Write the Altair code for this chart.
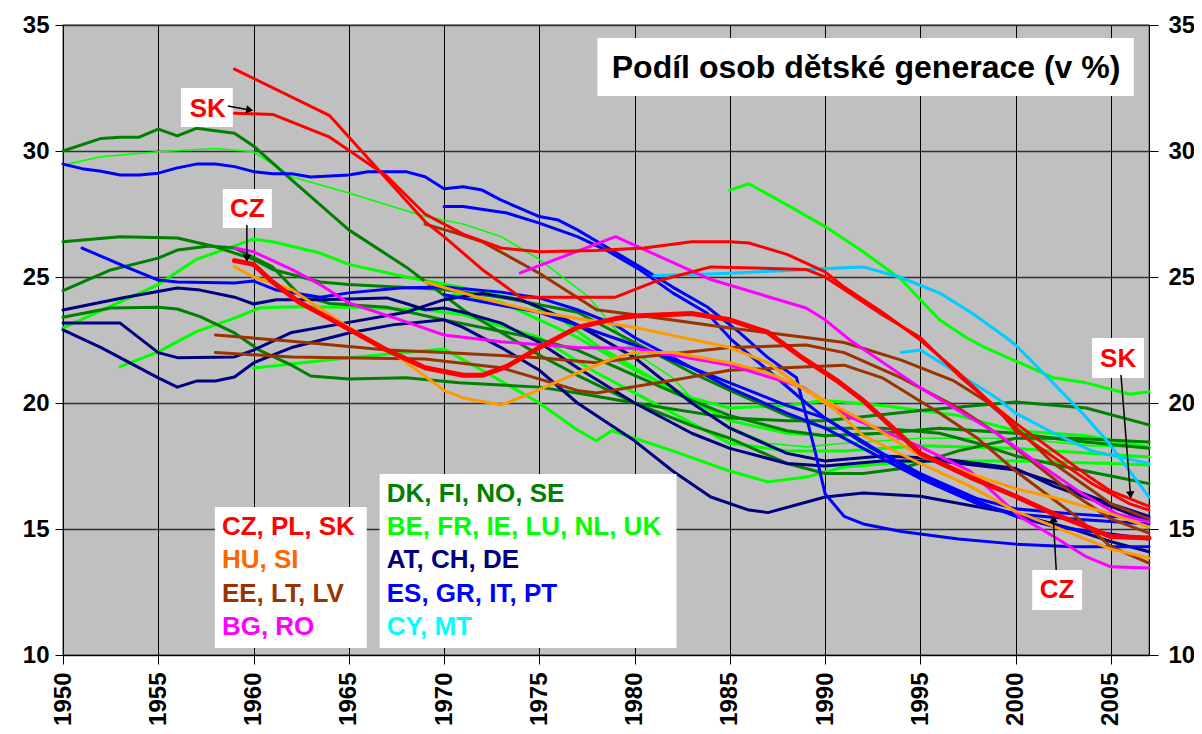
import math
import altair as alt
import pandas as pd

# ---------------- data: (year, share of children %) ----------------
# red: CZ, PL, SK
CZ = [(1959, 25.65), (1960, 25.5), (1961, 24.8), (1962.4, 24.0), (1964, 23.35), (1967, 22.1), (1969, 21.4),
      (1971, 21.1), (1972, 21.1), (1973.3, 21.45), (1975, 22.2), (1977, 23.0), (1979, 23.35), (1980, 23.45),
      (1983, 23.55), (1985, 23.3), (1987, 22.8), (1988.8, 21.8), (1990.6, 20.9), (1992, 20.1), (1995, 18.0),
      (1997.6, 17.06), (2000, 16.3), (2002, 15.6), (2003.7, 15.1), (2005, 14.7), (2007, 14.64)]
PL = [(1959, 33.25), (1964, 31.4), (1969, 27.2), (1970, 26.6), (1972, 25.3), (1974, 24.2), (1979, 24.2),
      (1981, 24.8), (1984, 25.4), (1989, 25.3), (1990, 25.0), (1991, 24.5), (1993, 23.5), (1995, 22.6),
      (1997, 21.1), (1999, 19.8), (2000, 19.2), (2002, 18.1), (2004, 17.0), (2005, 16.5), (2007, 15.9)]
SK = [(1959, 31.5), (1961, 31.45), (1964, 30.55), (1967, 29.0), (1969, 27.5), (1970, 27.1), (1971, 26.7),
      (1973, 26.15), (1975, 26.0), (1978, 26.05), (1980.5, 26.15), (1983, 26.4), (1985, 26.4), (1986, 26.35),
      (1988, 25.9), (1990, 25.2), (1991, 24.6), (1993, 23.6), (1995, 22.5), (1997, 21.2), (1999, 19.8),
      (2000, 18.9), (2002, 17.85), (2004, 16.8), (2005, 16.4), (2006, 16.0), (2007, 15.75)]
# orange: HU, SI
HU = [(1959, 25.4), (1960, 25.0), (1962, 24.5), (1963, 24.0), (1965, 23.0), (1967.3, 22.0), (1968.4, 21.4),
      (1970, 20.5), (1971, 20.2), (1973, 19.92), (1974.6, 20.4), (1977, 21.2), (1979, 21.8), (1980, 22.0),
      (1982, 22.0), (1985, 21.6), (1987, 21.2), (1988.8, 20.6), (1990.6, 19.7), (1992, 18.7), (1995, 17.6),
      (1997.6, 16.7), (2000, 15.7), (2002, 15.1), (2005, 14.2), (2007, 13.85)]
SI = [(1969, 24.8), (1972, 24.15), (1975, 23.6), (1977, 23.35), (1980, 23.0), (1985, 22.2), (1987, 21.6),
      (1988.8, 20.6), (1990, 20.1), (1992, 19.3), (1995, 17.9), (1997.6, 17.2), (2000, 16.6), (2002, 16.25),
      (2005, 15.6), (2007, 15.08)]
# brown: EE, LT, LV
EE = [(1969, 27.1), (1970.6, 26.75), (1972, 26.4), (1975, 25.15), (1978, 23.7), (1980, 23.5), (1985, 22.98),
      (1989, 22.6), (1991, 22.4), (1994, 21.7), (1996.7, 20.9), (1998.4, 20.1), (1999.5, 19.4), (2002, 17.6),
      (2003.7, 16.7), (2005, 16.0), (2007, 15.4)]
LT = [(1958, 22.7), (1962, 22.45), (1967, 22.1), (1970, 22.0), (1975, 21.8), (1978, 21.6), (1980, 21.8),
      (1985, 22.2), (1989, 22.3), (1991, 22.0), (1994, 21.0), (1997, 19.8), (1999, 18.8), (2001, 17.6),
      (2003, 16.4), (2005, 15.4), (2007, 14.84)]
LV = [(1958, 22.0), (1962, 21.83), (1969, 21.75), (1973, 21.4), (1977, 20.5), (1978, 20.4), (1982, 20.9),
      (1985, 21.3), (1991, 21.5), (1993, 21.0), (1996, 19.6), (1998, 18.6), (2000, 17.3), (2003, 15.6),
      (2005, 14.3), (2007, 13.65)]
# magenta: BG, RO
BG = [(1959, 26.15), (1960, 26.0), (1962, 25.3), (1963.5, 24.7), (1965, 23.97), (1967.7, 23.3), (1970, 22.7),
      (1973, 22.43), (1977, 22.2), (1980, 22.17), (1985, 21.5), (1988.8, 20.63), (1991.3, 19.44),
      (1994.9, 18.3), (1997.6, 17.3), (2000.2, 15.5), (2002, 14.7), (2003.7, 13.9), (2005, 13.5), (2007, 13.45)]
RO = [(1974, 25.16), (1979, 26.6), (1984, 24.9), (1989, 23.77), (1990, 23.3), (1991.3, 22.5), (1995, 20.6),
      (1999, 18.8), (2001, 17.7), (2003.5, 16.4), (2005.3, 15.6), (2007, 15.28)]
# dark green: DK, FI, NO, SE
FI = [(1950, 30.0), (1952, 30.5), (1953, 30.55), (1954, 30.55), (1955, 30.87), (1956, 30.6), (1957, 30.9),
      (1959, 30.7), (1960, 30.2), (1962, 28.85), (1965, 26.87), (1968, 25.4), (1971, 23.7), (1973, 22.8),
      (1975, 21.9), (1977, 21.1), (1980, 20.0), (1983, 19.1), (1985, 18.6), (1988, 17.6), (1990, 17.2),
      (1992, 17.2), (1994, 17.4), (1997, 18.1), (2000, 18.6), (2003, 18.6), (2007, 18.45)]
DK = [(1950, 26.4), (1953, 26.6), (1956, 26.55), (1958, 26.2), (1960, 25.7), (1961, 25.3), (1963.5, 24.8),
      (1965, 24.7), (1970, 24.5), (1973, 24.2), (1977, 23.6), (1980, 22.4), (1983, 21.2), (1985, 20.5),
      (1988, 19.5), (1990, 19.0), (1993, 19.0), (1996, 18.8), (1998, 18.4), (2000, 17.9), (2003, 17.4),
      (2005, 17.1), (2007, 16.8)]
NO = [(1950, 24.46), (1952.5, 25.28), (1955, 25.75), (1956, 26.07), (1957.7, 26.23), (1959, 26.15),
      (1961, 25.4), (1962.4, 24.3), (1964, 23.95), (1967, 23.8), (1970, 23.3), (1974.6, 22.6), (1977, 22.1),
      (1980, 21.1), (1983, 20.1), (1985, 19.5), (1988, 18.9), (1990, 18.7), (1993, 18.8), (1996, 19.0),
      (2000, 18.8), (2003, 18.5), (2007, 18.2)]
SE = [(1950, 23.4), (1952.5, 23.77), (1955, 23.8), (1956, 23.73), (1957.2, 23.43), (1959, 22.78),
      (1960.3, 22.1), (1962, 21.5), (1963, 21.07), (1965, 20.95), (1968, 21.0), (1970.8, 20.8), (1975, 20.63),
      (1977, 20.4), (1980, 20.0), (1985, 19.4), (1988, 19.3), (1990, 19.3), (1995, 19.7), (2000, 20.04),
      (2003.7, 19.8), (2007, 19.13)]
# bright green: BE, FR, IE, LU, NL, UK
NL = [(1950, 29.44), (1952, 29.77), (1955, 29.97), (1958, 30.1), (1960, 29.97), (1962, 28.98), (1965, 28.33),
      (1969, 27.4), (1971, 27.1), (1973, 26.6), (1975, 25.7), (1977.6, 24.2), (1980, 22.0), (1982, 21.0),
      (1983.6, 19.7), (1985, 19.05), (1987, 18.4), (1989, 18.26), (1991, 18.4), (1995, 18.6), (2000, 18.6),
      (2004, 18.3), (2007, 18.25)]
IE = [(1985, 28.45), (1986, 28.7), (1988, 27.86), (1990, 27.0), (1992, 26.0), (1994, 24.9), (1995, 24.1),
      (1996, 23.3), (1997.4, 22.6), (1998.4, 22.2), (2000.2, 21.6), (2002, 21.0), (2003.7, 20.8),
      (2006, 20.35), (2007, 20.45)]
UK = [(1953, 21.44), (1955, 22.03), (1957, 22.83), (1959, 23.37), (1960.3, 23.77), (1962, 23.82), (1965, 23.8),
      (1969, 23.7), (1971, 23.5), (1975, 22.6), (1978, 21.2), (1980, 20.4), (1985, 18.4), (1988, 18.1),
      (1991, 18.1), (1995, 18.3), (2000, 18.2), (2007, 17.86)]
FR = [(1950, 22.98), (1955, 24.7), (1957, 25.7), (1960, 26.5), (1961, 26.4), (1963.5, 25.95), (1965, 25.5),
      (1968, 25.0), (1970.8, 24.6), (1974, 24.1), (1976, 23.4), (1978, 22.3), (1980, 21.4), (1982, 20.5),
      (1985, 19.3), (1988, 18.8), (1990, 18.7), (1993, 18.8), (1996, 19.0), (2000, 18.8), (2003, 18.5),
      (2007, 18.25)]
BE = [(1960, 21.39), (1965, 21.8), (1970, 22.14), (1972, 21.3), (1975, 20.0), (1977, 18.93), (1978, 18.5),
      (1978.8, 18.9), (1982, 18.1), (1985, 17.3), (1987, 16.87), (1989, 17.06), (1991, 17.46), (1995, 17.7),
      (2000, 17.7), (2005, 17.6), (2007, 17.54)]
LU = [(1970.5, 24.3), (1973, 24.0), (1975, 23.3), (1977, 22.6), (1980, 21.3), (1983, 20.2), (1985, 19.8),
      (1988, 19.9), (1990, 20.1), (1993, 19.9), (1997, 19.5), (2000, 18.9), (2003.7, 18.7), (2007, 18.25)]
# navy: AT, CH, DE
AT = [(1950, 23.69), (1953.3, 24.2), (1956, 24.56), (1957.2, 24.48), (1959, 24.2), (1960, 23.93),
      (1961.2, 24.1), (1963.5, 24.1), (1967, 24.17), (1968, 23.95), (1969, 23.7), (1970, 23.77), (1971, 23.6),
      (1973, 23.17), (1975, 22.4), (1977, 21.4), (1980, 20.0), (1983, 18.8), (1985, 18.2), (1988, 17.6),
      (1990, 17.5), (1993, 17.7), (1996, 17.7), (2000, 17.34), (2002, 16.85), (2005, 16.0), (2007, 15.5)]
CH = [(1950, 23.17), (1953, 23.17), (1955, 22.0), (1956, 21.8), (1959, 21.83), (1960, 22.1), (1962, 22.8),
      (1965, 23.2), (1968, 23.6), (1970, 24.1), (1972, 24.35), (1974, 24.1), (1975, 23.8), (1977, 23.1),
      (1980, 21.8), (1983, 20.0), (1985, 19.0), (1988, 18.0), (1990, 17.7), (1993, 17.9), (1996, 17.8),
      (2000, 17.4), (2002, 16.7), (2005, 15.9), (2007, 15.3)]
DE = [(1950, 22.9), (1952, 22.2), (1955, 21.0), (1956, 20.63), (1957, 20.87), (1958, 20.87), (1959, 21.03),
      (1960, 21.59), (1961, 21.9), (1962, 22.2), (1965, 22.78), (1967.3, 23.1), (1970, 23.3), (1971, 23.0),
      (1973, 22.2), (1975, 21.3), (1977, 20.0), (1980, 18.5), (1982, 17.3), (1984, 16.27), (1986, 15.75),
      (1987, 15.65), (1990, 16.27), (1992, 16.43), (1995, 16.3), (2000, 15.6), (2003, 15.0), (2005, 14.5),
      (2007, 14.1)]
# blue: ES, GR, IT, PT
PT = [(1950, 29.48), (1951, 29.3), (1952, 29.2), (1953, 29.05), (1954, 29.05), (1955, 29.12), (1956, 29.33),
      (1957, 29.48), (1958, 29.48), (1959, 29.38), (1960, 29.18), (1961, 29.1), (1962, 29.1), (1963, 28.97),
      (1965, 29.05), (1966, 29.18), (1968, 29.18), (1969, 28.98), (1970, 28.5), (1971, 28.58), (1972, 28.45),
      (1973, 28.05), (1975, 27.4), (1976, 27.26), (1977, 26.87), (1978.5, 26.2), (1980.3, 25.4), (1982, 24.6),
      (1983.8, 23.82), (1985.5, 22.8), (1987, 21.8), (1988.5, 21.0), (1989.5, 18.0), (1990, 16.4),
      (1991, 15.5), (1992, 15.2), (1994, 14.9), (1997, 14.6), (2000, 14.4), (2003, 14.3), (2007, 14.3)]
ES = [(1970, 27.8), (1971, 27.8), (1973.3, 27.54), (1975, 27.14), (1977, 26.6), (1978.5, 26.07),
      (1980.3, 25.28), (1982, 24.37), (1983.8, 23.57), (1985.1, 22.5), (1987, 21.3), (1989, 20.0), (1990, 19.4),
      (1992, 18.4), (1995, 17.1), (1998, 16.1), (2000, 15.5), (2002, 15.1), (2005, 14.8), (2007, 14.6)]
IT = [(1951, 26.15), (1953.3, 25.4), (1955, 24.88), (1956, 24.8), (1959, 24.76), (1960, 24.84),
      (1961.2, 24.48), (1963.5, 24.2), (1965, 24.37), (1967.7, 24.56), (1970, 24.6), (1973, 24.4),
      (1975, 24.17), (1977, 23.7), (1979, 23.1), (1980, 22.6), (1982, 21.8), (1985, 20.6), (1988, 19.6),
      (1990, 19.0), (1992, 18.2), (1995, 17.0), (1998, 16.0), (2000, 15.6), (2003, 15.4), (2005, 15.3),
      (2007, 15.2)]
GR = [(1970, 24.3), (1975, 23.6), (1980, 22.3), (1985, 20.8), (1988, 19.9), (1990, 19.4), (1993, 18.0),
      (1995, 17.2), (1998, 16.2), (2000, 15.8), (2003, 15.6), (2005, 15.5), (2007, 15.45)]
# cyan: CY, MT
CY = [(1981, 25.05), (1985, 25.15), (1990.7, 25.36), (1992, 25.4), (1993.9, 25.0), (1996, 24.37),
      (1997.7, 23.57), (1999.5, 22.6), (2000, 22.3), (2001.7, 21.0), (2003.5, 19.6), (2004.9, 18.4),
      (2007, 16.27)]
MT = [(1994, 22.0), (1995, 22.1), (1996.5, 21.4), (1999, 20.2), (2000, 19.6), (2002, 18.8), (2004, 18.1),
      (2007, 17.6)]

# groups in drawing order: (colour, members)
GROUPS = [
    ("#00FF00", [("BE", BE), ("FR", FR), ("IE", IE), ("LU", LU), ("NL", NL), ("UK", UK)]),
    ("#008000", [("DK", DK), ("FI", FI), ("NO", NO), ("SE", SE)]),
    ("#000080", [("AT", AT), ("CH", CH), ("DE", DE)]),
    ("#0000FF", [("ES", ES), ("GR", GR), ("IT", IT), ("PT", PT)]),
    ("#00CCFF", [("CY", CY), ("MT", MT)]),
    ("#993300", [("EE", EE), ("LT", LT), ("LV", LV)]),
    ("#FF00FF", [("BG", BG), ("RO", RO)]),
    ("#FF9900", [("HU", HU), ("SI", SI)]),
    ("#FF0000", [("PL", PL), ("SK", SK), ("CZ", CZ)]),
]
THIN = {"NL": 1.6}
THICK = {"CZ": 5}

# legend boxes (text, colour)
LEG_LEFT = [("CZ, PL, SK", "#FF0000"), ("HU, SI", "#FF6600"), ("EE, LT, LV", "#993300"), ("BG, RO", "#FF00FF")]
LEG_RIGHT = [("DK, FI, NO, SE", "#008000"), ("BE, FR, IE, LU, NL, UK", "#00FF00"), ("AT, CH, DE", "#000080"),
             ("ES, GR, IT, PT", "#0000FF"), ("CY, MT", "#00FFFF")]
TITLE = "Podíl osob dětské generace (v %)"
X_TICKS = list(range(1950, 2006, 5))
Y_TICKS = list(range(10, 36, 5))

FONT = "Liberation Sans"
PX_YEAR = 1086 / 57.0
PX_UNIT = 630 / 25.0

XS = alt.Scale(domain=[1950, 2007], nice=False, zero=False)
YS = alt.Scale(domain=[10, 35], nice=False, zero=False)

x_axis = alt.Axis(values=X_TICKS, format="d", labelAngle=270, labelFont=FONT,
                  labelFontSize=24, labelFontWeight="bold", labelColor="black", tickColor="black",
                  tickSize=9, labelPadding=8, domainColor="black", grid=True, gridColor="black",
                  gridWidth=1, title=None, labelFlush=False)
y_axis_l = alt.Axis(values=Y_TICKS, format="d", labelFont=FONT, labelFontSize=24,
                    labelFontWeight="bold", labelColor="black", tickColor="black", tickSize=8,
                    labelPadding=6, domainColor="black", grid=True, gridColor="#303030", gridWidth=1.5,
                    title=None, labelFlush=False)
y_axis_r = alt.Axis(values=Y_TICKS, format="d", orient="right", labelFont=FONT,
                    labelFontSize=24, labelFontWeight="bold", labelColor="black", tickColor="black",
                    tickSize=9, labelPadding=10, domainColor="black", grid=False, title=None,
                    labelFlush=False)


def X(field="year"):
    return alt.X(f"{field}:Q", scale=XS, axis=x_axis)


def Y(field="val"):
    return alt.Y(f"{field}:Q", scale=YS, axis=y_axis_l)


# ---------------- lines ----------------
layers = []
for color, members in GROUPS:
    rows = []
    for name, pts in members:
        w = THIN.get(name, THICK.get(name, 3))
        for yr, v in pts:
            rows.append({"year": yr, "val": v, "series": name, "w": w})
    df = pd.DataFrame(rows)
    layers.append(
        alt.Chart(df).mark_line(color=color, strokeJoin="round", strokeCap="round").encode(
            x=X(), y=Y(), detail="series:N",
            strokeWidth=alt.StrokeWidth("w:Q", scale=None), order="year:Q")
    )

# ---------------- white boxes (title, legends, labels) ----------------
boxes = pd.DataFrame([
    {"year": 1978.05, "year2": 2006.2, "val": 34.48, "val2": 32.18},   # title
    {"year": 1957.97, "year2": 1965.94, "val": 15.87, "val2": 10.28},  # legend left
    {"year": 1966.62, "year2": 1982.2, "val": 17.18, "val2": 10.28},   # legend right
    {"year": 1956.19, "year2": 1958.91, "val": 32.5, "val2": 30.95},   # SK
    {"year": 1958.39, "year2": 1960.96, "val": 28.49, "val2": 26.94},  # CZ
    {"year": 2004.01, "year2": 2006.74, "val": 22.58, "val2": 20.99},  # SK right
    {"year": 2000.87, "year2": 2003.49, "val": 13.37, "val2": 11.79},  # CZ right
])
layers.append(alt.Chart(boxes).mark_rect(color="white").encode(
    x=X(), x2="year2:Q", y=Y(), y2="val2:Q"))

# legend texts
leg_rows = []
base_left = [14.76, 13.45, 12.10, 10.79]
for (t, c), v in zip(LEG_LEFT, base_left):
    leg_rows.append({"year": 1958.34, "val": v, "t": t, "c": c})
base_right = [16.07, 14.76, 13.45, 12.10, 10.79]
for (t, c), v in zip(LEG_RIGHT, base_right):
    leg_rows.append({"year": 1966.99, "val": v, "t": t, "c": c})
layers.append(alt.Chart(pd.DataFrame(leg_rows)).mark_text(
    align="left", baseline="alphabetic", font=FONT, fontSize=26, fontWeight="bold").encode(
    x=X(), y=Y(), text="t:N", color=alt.Color("c:N", scale=None)))

# title
layers.append(alt.Chart(pd.DataFrame([{"year": 1992.15, "val": 32.9, "t": TITLE}])).mark_text(
    align="center", baseline="alphabetic", font=FONT, fontSize=32, fontWeight="bold", color="black").encode(
    x=X(), y=Y(), text="t:N"))

# country labels
labs = pd.DataFrame([
    {"year": 1957.6, "val": 31.35, "t": "SK"},
    {"year": 1959.67, "val": 27.38, "t": "CZ"},
    {"year": 2005.38, "val": 21.43, "t": "SK"},
    {"year": 2002.18, "val": 12.26, "t": "CZ"},
])
layers.append(alt.Chart(labs).mark_text(
    align="center", baseline="alphabetic", font=FONT, fontSize=26, fontWeight="bold", color="#FF0000").encode(
    x=X(), y=Y(), text="t:N"))

# arrows
arrows = [
    (1958.65, 31.79, 1959.8, 31.63),
    (1959.65, 27.06, 1959.65, 25.75),
    (2005.53, 21.11, 2006.03, 16.35),
    (2002.13, 13.37, 2001.98, 15.4),
]
arr_rows = []
for x1, y1, x2, y2 in arrows:
    dx = (x2 - x1) * PX_YEAR
    dy = -(y2 - y1) * PX_UNIT
    ang = math.degrees(math.atan2(dx, -dy)) % 360
    arr_rows.append({"year": x1, "val": y1, "year2": x2, "val2": y2, "ang": ang})
arr = pd.DataFrame(arr_rows)
layers.append(alt.Chart(arr).mark_rule(color="black", strokeWidth=1.5).encode(
    x=X(), x2="year2:Q", y=Y(), y2="val2:Q"))
layers.append(alt.Chart(arr).mark_point(shape="triangle-up", filled=True, color="black", size=70,
                                         opacity=1).encode(
    x=X("year2"), y=Y("val2"), angle=alt.Angle("ang:Q", scale=None)))

main = alt.layer(*layers)

# right axis
right = alt.Chart(pd.DataFrame({"val": [10, 35]})).mark_point(opacity=0).encode(
    y=alt.Y("val:Q", scale=YS, axis=y_axis_r))

chart = alt.layer(main, right).resolve_axis(y="independent").properties(
    width=1086, height=630,
    autosize=alt.AutoSizeParams(type="none"),
    padding={"left": 55, "top": 17, "right": 45, "bottom": 71},
    background="white",
).configure_view(fill="#C0C0C0", stroke="#808080", strokeWidth=1.5)

chart.save("out.html", embed_options={"renderer": "svg", "actions": False})
